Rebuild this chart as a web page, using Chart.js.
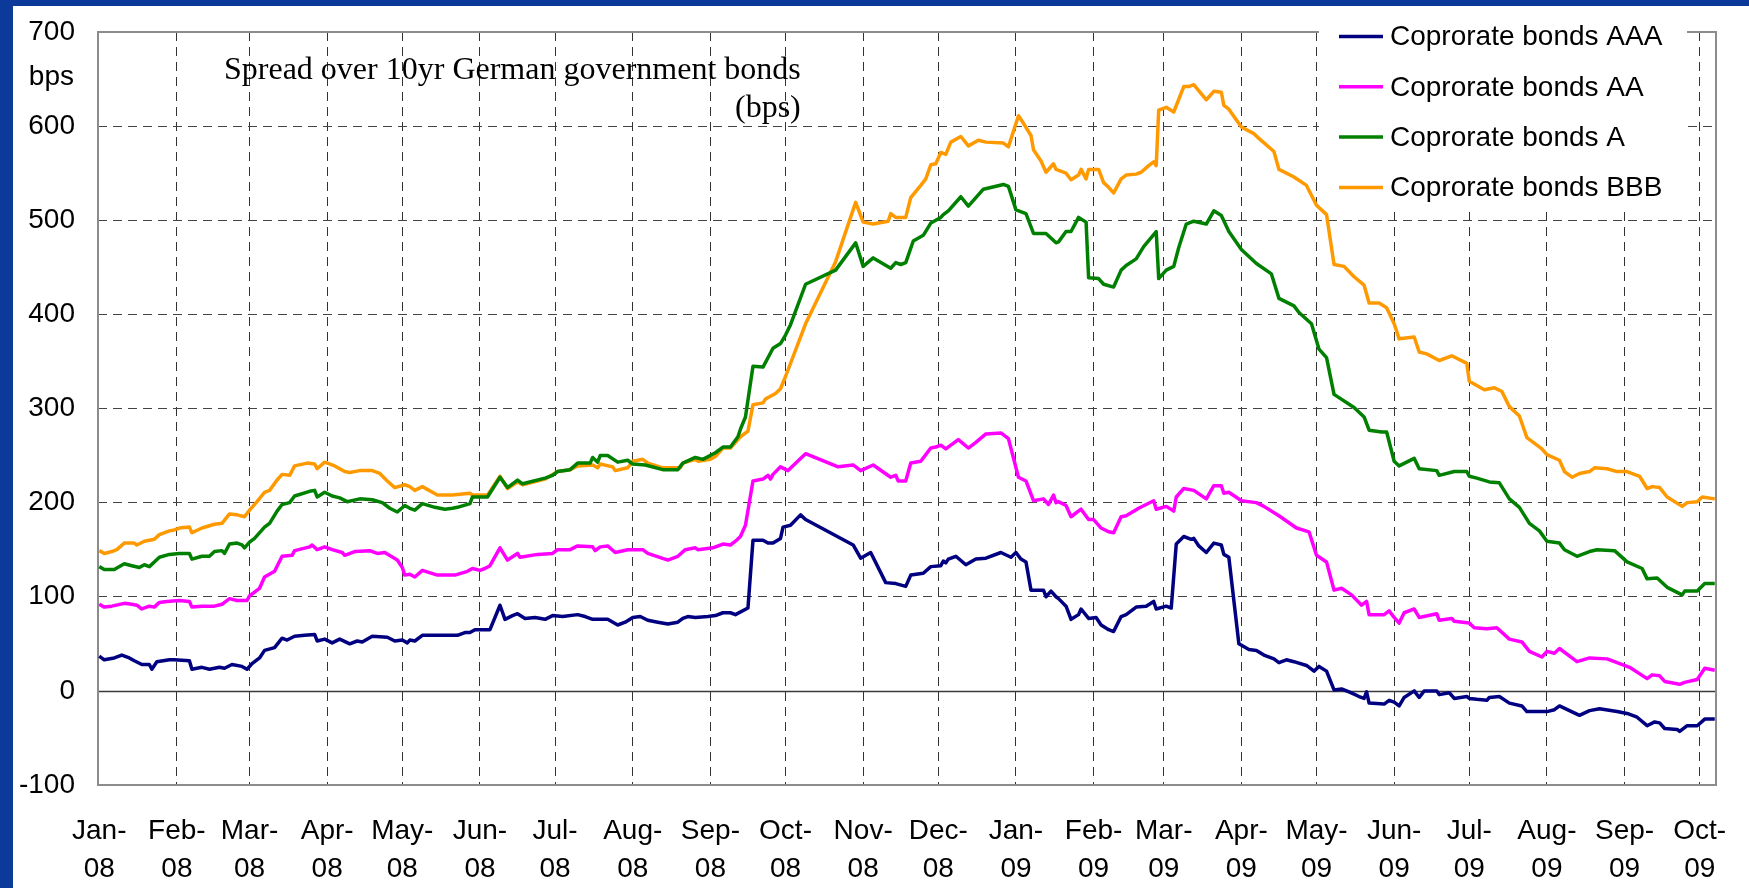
<!DOCTYPE html>
<html>
<head>
<meta charset="utf-8">
<title>Corporate bond spreads</title>
<script src="https://cdn.jsdelivr.net/npm/chart.js@4.4.0/dist/chart.umd.min.js"></script>
<style>
html,body{margin:0;padding:0;background:#0b3a9b;overflow:hidden;}
canvas{display:block;}
</style>
</head>
<body>
<canvas id="spreadChart" width="1749" height="888"></canvas>
<script>
// x values are days counted from 1 Jan 2008, y values in bps

const monthDays = [0,31,60,91,121,152,182,213,244,274,305,335,366,397,425,456,486,517,547,578,609,639];
const monthLabels = ["Jan-08","Feb-08","Mar-08","Apr-08","May-08","Jun-08","Jul-08","Aug-08","Sep-08","Oct-08","Nov-08","Dec-08",
                     "Jan-09","Feb-09","Mar-09","Apr-09","May-09","Jun-09","Jul-09","Aug-09","Sep-09","Oct-09"];
const yTicks = [-100,0,100,200,300,400,500,600,700];

const seriesNames = ["Coprorate bonds AAA","Coprorate bonds AA","Coprorate bonds A","Coprorate bonds BBB"];
const seriesColors = ["#000080","#ff00ff","#008000","#ff9900"];

const aaaPoints = [[0,37],[2,33],[6,35],[9,38],[12,35],[14,32],[17,28],[20,28],[21,23],[23,31],[28,33],[30,33],[36,32],[37,23],[41,25],[44,23],[48,25],[50,24],[53,28],[57,26],[59,23],[61,29],[64,35],[66,43],[70,46],[73,56],[75,54],[78,58],[82,59],[86,60],[87,53],[90,55],[93,51],[96,55],[100,50],[103,53],[105,52],[109,58],[115,57],[118,53],[121,54],[123,51],[124,54],[126,53],
[129,59],[143,59],[146,62],[148,62],[150,65],[156,65],[160,91],[162,76],[165,80],[167,82],[170,77],[174,78],[178,76],[181,80],[185,79],[191,81],[194,79],[197,76],[203,76],[207,70],[210,73],[213,78],[216,79],[219,75],[223,73],[227,71],[231,73],[233,77],[235,79],[238,78],[243,79],[246,80],[249,83],[252,83],[254,81],[259,88],
[261,160],[265,160],[267,157],[269,157],[272,162],[273,174],[276,176],[280,187],[282,182],[301,155],[304,141],[308,147],[314,115],[318,114],[322,111],[324,123],[329,125],[332,132],[336,133],[337,138],[338,136],[339,140],[342,143],[346,134],[350,140],[354,141],[360,147],[364,142],[366,147],[368,140],[370,137],[372,107],[377,107],[378,100],[380,106],[382,100],
[383,98],[386,90],[388,76],[391,81],[392,87],[395,77],[398,78],[400,70],[403,65],[405,63],[408,79],[410,81],[414,89],[418,90],[421,95],[422,87],[426,90],[428,88],[430,156],[433,164],[436,161],[437,162],[439,154],[442,147],[445,157],[448,155],[449,145],[451,142],[455,50],[459,44],[462,43],[465,38],[469,34],[471,30],[474,33],[477,31],[482,27],[485,21],[487,26],[490,21],[493,1],[496,2],[499,-1],[503,-6],[505,-8],[506,-1],[507,-13],[513,-14],[515,-10],
[517,-12],[519,-16],[521,-7],[525,0],[527,-7],[529,0],[534,0],[535,-4],[539,-2],[541,-8],[546,-6],[547,-8],[550,-9],[554,-10],[555,-7],[559,-6],[563,-13],[568,-16],[570,-22],[578,-22],[581,-20],[583,-16],[587,-21],[591,-26],[595,-21],[599,-19],[606,-22],[610,-24],[614,-28],[618,-37],[621,-33],[623,-34],[625,-40],[630,-41],[631,-43],[634,-37],[638,-37],[641,-30],[645,-30]];

const aaPoints = [[0,92],[2,89],[5,90],[10,93],[13,92],[15,91],[17,87],[20,90],[22,89],[24,94],[27,95],[32,96],[36,95],[37,89],[41,90],[46,90],[49,92],[52,98],[55,96],[59,96],[60,101],[64,109],[66,121],[70,127],[73,143],[77,144],[78,149],[84,153],[85,155],[87,150],[90,153],[93,150],[97,147],[98,144],[102,148],[108,149],[111,146],[114,147],[119,139],[121,131],[122,123],[124,124],[126,121],
[129,128],[135,123],[142,123],[147,127],[149,130],[152,128],[154,130],[156,133],[160,152],[163,139],[167,146],[168,142],[175,145],[181,146],[183,150],[188,150],[191,154],[197,153],[198,149],[200,153],[203,154],[206,147],[211,150],[217,150],[219,146],[227,139],[231,143],[234,150],[238,152],[239,150],[245,152],[249,156],[252,155],[254,159],
[256,164],[258,176],[261,223],[265,225],[267,229],[268,225],[269,230],[272,238],[275,234],[280,247],[282,252],[295,238],[301,240],[304,234],[309,240],[316,227],[318,229],[319,223],[322,223],[324,242],[328,244],[330,251],[332,258],[334,259],[336,261],[338,257],[340,261],[343,267],[347,258],[350,264],[354,273],[360,274],[363,268],[367,227],[370,223],[373,202],[377,204],[379,198],[381,208],[382,200],
[383,201],[386,197],[388,185],[392,193],[395,182],[397,182],[400,173],[403,169],[405,168],[408,185],[410,186],[415,194],[421,202],[422,193],[426,196],[429,191],[430,206],[433,215],[437,213],[442,204],[445,218],[448,218],[449,210],[451,211],[456,202],[462,200],[465,196],[471,186],[478,173],[483,169],[486,144],[490,137],[493,107],[496,109],[500,102],[504,91],[506,95],[507,81],[513,81],[515,85],[517,78],
[519,72],[521,83],[525,87],[527,78],[534,82],[535,75],[540,77],[541,74],[547,72],[549,67],[554,66],[558,67],[563,55],[568,52],[571,42],[576,36],[578,42],[581,40],[583,45],[588,35],[590,31],[595,35],[602,34],[606,30],[611,25],[618,13],[620,17],[623,16],[625,10],[631,7],[633,9],[638,12],[641,24],[645,22]];

const aPoints = [[0,132],[2,129],[6,129],[10,135],[13,133],[16,131],[18,134],[20,132],[22,137],[24,142],[28,145],[32,146],[36,146],[37,140],[41,143],[44,143],[46,148],[49,149],[50,146],[52,156],[55,157],[57,155],[58,152],[60,158],[62,162],[66,174],[68,178],[71,191],[73,198],[76,200],[78,207],[84,212],[86,213],[87,206],[90,211],[93,207],[96,205],[99,201],[104,204],[109,203],[113,200],[116,194],[119,190],[122,197],[124,194],[126,192],
[129,199],[134,195],[138,193],[141,194],[143,195],[148,199],[149,206],[155,206],[160,227],[163,216],[167,224],[169,220],[178,226],[181,229],[183,233],[188,235],[191,242],[196,242],[197,248],[199,243],[200,250],[203,250],[207,243],[211,245],[213,241],[218,240],[225,235],[231,235],[233,242],[238,248],[241,246],[246,253],[249,259],[252,259],[255,270],
[256,278],[258,291],[261,345],[265,344],[269,364],[272,369],[274,378],[276,389],[282,432],[294,447],[302,476],[305,451],[309,460],[316,449],[318,455],[320,453],[322,455],[325,478],[329,484],[332,497],[336,503],[337,506],[339,510],[344,525],[347,515],[353,533],[361,538],[363,536],[366,511],[370,507],[373,486],[378,486],[382,476],
[383,477],[386,488],[388,488],[391,503],[394,498],[395,439],[399,438],[401,432],[405,429],[408,447],[410,452],[414,459],[417,472],[422,488],[423,438],[426,447],[429,451],[431,471],[434,496],[437,499],[442,496],[445,510],[448,505],[451,488],[456,469],[462,454],[468,443],[471,417],[477,409],[479,402],[484,390],[487,363],[490,354],[493,315],[501,301],[505,291],[507,277],[512,275],[514,275],[517,244],[519,239],
[525,247],[527,236],[534,234],[535,229],[541,233],[546,233],[547,228],[550,226],[555,222],[559,221],[563,204],[567,195],[571,178],[575,170],[578,159],[583,157],[585,150],[590,143],[595,148],[598,150],[605,149],[610,137],[616,130],[618,119],[622,120],[626,110],[632,102],[633,106],[638,106],[641,114],[645,114]];

const bbbPoints = [[0,149],[2,146],[5,148],[7,150],[10,157],[14,157],[15,155],[18,159],[22,161],[24,166],[28,170],[30,171],[32,173],[36,174],[37,168],[41,173],[46,177],[49,178],[52,188],[55,187],[58,185],[60,192],[63,201],[66,211],[68,213],[71,224],[73,230],[76,229],[78,239],[83,242],[86,241],[87,236],[90,243],[94,239],[98,233],[100,232],[104,234],[109,234],[112,231],[115,223],[118,216],[122,219],[124,217],[126,213],
[129,217],[135,208],[141,208],[148,210],[149,208],[155,208],[160,228],[163,215],[167,222],[169,219],[178,225],[183,233],[188,235],[191,239],[197,240],[199,237],[200,241],[205,238],[206,234],[211,237],[213,244],[217,246],[219,242],[225,237],[232,237],[233,242],[238,246],[239,244],[244,246],[246,249],[249,258],[252,258],
[256,270],[259,276],[261,304],[265,306],[266,310],[270,316],[272,321],[274,334],[282,390],[294,456],[302,519],[305,498],[309,496],[315,499],[316,507],[318,503],[322,503],[324,524],[328,537],[330,544],[332,559],[334,560],[336,572],[338,570],[340,583],[344,589],[347,579],[351,585],[354,583],[361,582],[363,578],[367,611],[369,603],[372,590],[373,575],[376,563],[378,551],[381,560],[382,554],
[386,550],[388,543],[391,548],[392,554],[394,544],[395,554],[399,554],[401,540],[403,535],[405,529],[408,544],[410,548],[414,549],[416,551],[419,558],[421,562],[422,558],[423,617],[426,620],[429,615],[433,642],[435,642],[437,644],[442,628],[445,637],[448,636],[449,622],[451,618],[456,599],[461,592],[463,587],[469,573],[471,554],[477,546],[482,537],[486,516],[490,506],[493,453],[497,451],[501,440],[505,431],[507,412],[511,412],[514,407],[517,390],[519,374],
[525,376],[527,360],[530,358],[535,351],[540,356],[546,348],[547,329],[553,320],[557,322],[560,318],[563,302],[567,292],[570,269],[576,257],[578,251],[583,245],[585,233],[588,227],[591,231],[595,233],[597,237],[602,236],[606,233],[610,233],[615,228],[618,215],[620,217],[623,216],[626,206],[632,196],[634,200],[638,201],[640,206],[645,204]];

const allPoints = [aaaPoints, aaPoints, aPoints, bbbPoints];

const sansFont = "'Liberation Sans', Arial, sans-serif";
const serifFont = "'Liberation Serif', 'Times New Roman', serif";
Chart.defaults.font.family = sansFont;
Chart.defaults.color = "#000";

// blue slide frame, zero line, plot border, legend box, titles
const decor = {
  id: "decor",
  beforeDraw(chart) {
    const c = chart.ctx;
    c.save();
    c.fillStyle = "#0b3a9b";
    c.fillRect(0, 0, chart.width, chart.height);
    c.fillStyle = "#ffffff";
    c.fillRect(13, 6, chart.width - 13, chart.height - 6);
    c.restore();
  },
  beforeDatasetsDraw(chart) {
    const c = chart.ctx;
    const a = chart.chartArea;
    const y0 = Math.round(chart.scales.y.getPixelForValue(0)) + 0.5;
    c.save();
    c.strokeStyle = "#3a3a3a";
    c.lineWidth = 1.5;
    c.beginPath();
    c.moveTo(a.left, y0);
    c.lineTo(a.right, y0);
    c.stroke();

    c.strokeStyle = "#8c8c8c";
    c.lineWidth = 2;
    c.strokeRect(a.left, a.top, a.right - a.left, a.bottom - a.top);

    // legend
    c.fillStyle = "#ffffff";
    c.fillRect(1319, a.top - 2, 368, 180);
    c.font = "28px " + sansFont;
    c.textAlign = "left";
    c.textBaseline = "middle";
    chart.data.datasets.forEach((ds, i) => {
      const ly = 36.5 + i * 50.3;
      c.strokeStyle = ds.borderColor;
      c.lineWidth = 3.5;
      c.beginPath();
      c.moveTo(1339, ly);
      c.lineTo(1383, ly);
      c.stroke();
      c.fillStyle = "#000";
      c.fillText(ds.label, 1390, ly + 1);
    });
    c.restore();
  },
  afterDraw(chart) {
    const c = chart.ctx;
    c.save();
    c.fillStyle = "#000";
    c.textBaseline = "alphabetic";
    c.font = "32px " + serifFont;
    c.textAlign = "left";
    const t1 = "Spread over 10yr German government bonds";
    c.fillText(t1, 224, 79);
    const w = c.measureText(t1).width;
    c.textAlign = "right";
    c.fillText("(bps)", 224 + w, 117);

    c.font = "28px " + sansFont;
    c.fillText("bps", 74, 85);
    c.restore();
  }
};

const ctx = document.getElementById("spreadChart").getContext("2d");

new Chart(ctx, {
  type: "line",
  data: {
    datasets: allPoints.map((pts, i) => ({
      label: seriesNames[i],
      data: pts.map(p => ({ x: p[0], y: p[1] })),
      borderColor: seriesColors[i],
      backgroundColor: seriesColors[i],
      borderWidth: 3.5,
      pointRadius: 0,
      tension: 0,
      fill: false,
      borderJoinStyle: "round"
    }))
  },
  options: {
    responsive: false,
    animation: false,
    devicePixelRatio: 1,
    layout: { padding: { top: 32, right: 33, left: 0, bottom: 0 }, autoPadding: false },
    plugins: { legend: { display: false }, tooltip: { enabled: false } },
    scales: {
      x: {
        type: "linear",
        min: -0.5,
        max: 645.5,
        afterBuildTicks: s => { s.ticks = monthDays.map(v => ({ value: v })); },
        afterFit: s => {
          s.height = 103;
          s.paddingLeft = 0;
          s.paddingRight = 0;
        },
        ticks: {
          autoSkip: false,
          maxRotation: 0,
          minRotation: 0,
          padding: 27,
          color: "#000",
          font: { size: 28, lineHeight: 38 / 28 },
          callback: (v, i) => {
            const p = monthLabels[i].split("-");
            return [p[0] + "-", p[1]];
          }
        },
        grid: {
          drawTicks: false,
          lineWidth: 1,
          color: c => c.index === 0 ? "rgba(0,0,0,0)" : "#333333"
        },
        border: { display: false, dash: [9, 6] }
      },
      y: {
        min: -100,
        max: 700,
        afterBuildTicks: s => { s.ticks = yTicks.map(v => ({ value: v })); },
        afterFit: s => {
          s.width = 98;
          s.paddingTop = 0;
          s.paddingBottom = 0;
        },
        ticks: {
          padding: 23,
          color: "#000",
          font: { size: 28 },
          callback: v => String(v)
        },
        grid: {
          drawTicks: false,
          lineWidth: 1,
          color: c => (c.tick && (c.tick.value === 0 || c.tick.value === -100 || c.tick.value === 700)) ? "rgba(0,0,0,0)" : "#444444"
        },
        border: { display: false, dash: [9, 6] }
      }
    }
  },
  plugins: [decor]
});
</script>
</body>
</html>
